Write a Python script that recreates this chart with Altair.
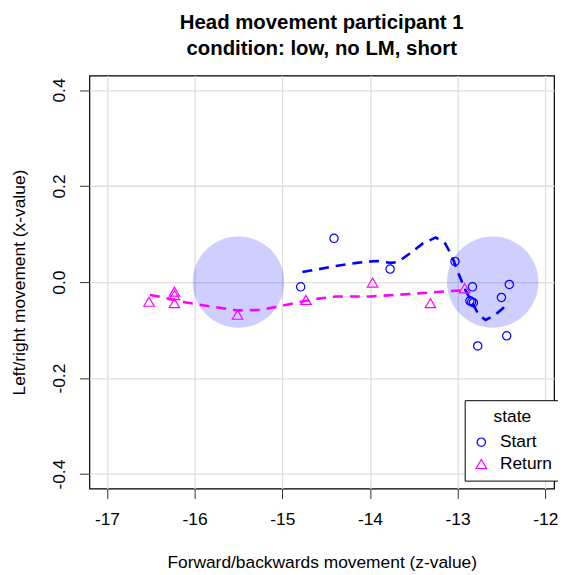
import altair as alt
import pandas as pd

# --- data ---
start_z = [-14.79, -14.41, -13.77, -13.03, -12.83, -12.41, -12.50, -12.86, -12.84, -12.82, -12.44, -12.77]
start_x = [-0.010, 0.091, 0.027, 0.043, -0.010, -0.005, -0.032, -0.039, -0.041, -0.043, -0.112, -0.133]

return_z = [-16.52, -16.23, -16.23, -16.23, -15.51, -14.73, -13.97, -13.31, -12.92]
return_x = [-0.041, -0.020, -0.027, -0.044, -0.068, -0.037, -0.001, -0.044, -0.013]

start_curve_z = [-14.77, -14.61, -14.40, -14.15, -13.93, -13.76, -13.68, -13.55, -13.40, -13.25,
                 -13.14, -13.06, -12.99, -12.91, -12.83, -12.76, -12.68, -12.57, -12.48, -12.42]
start_curve_x = [0.021, 0.026, 0.033, 0.040, 0.044, 0.040, 0.042, 0.059, 0.080, 0.093,
                 0.080, 0.052, 0.018, -0.017, -0.044, -0.068, -0.079, -0.068, -0.054, -0.041]

return_curve_z = [-16.51, -16.41, -16.11, -15.85, -15.51, -15.25, -15.02, -14.79, -14.57, -14.38,
                  -14.00, -13.55, -13.10, -12.89]
return_curve_x = [-0.027, -0.030, -0.042, -0.050, -0.059, -0.058, -0.050, -0.041, -0.034, -0.030,
                  -0.030, -0.025, -0.019, -0.017]

landmark_z = [-15.5, -12.6]
landmark_x = [0.0, 0.0]

state_order = ["Start", "Return"]

FONT = "Liberation Sans"
FS = 17.5

pts = pd.DataFrame({
    "z": start_z + return_z,
    "x": start_x + return_x,
    "state": ["Start"] * len(start_z) + ["Return"] * len(return_z),
})
sc = pd.DataFrame({"z": start_curve_z, "x": start_curve_x, "i": range(len(start_curve_z))})
rc = pd.DataFrame({"z": return_curve_z, "x": return_curve_x, "i": range(len(return_curve_z))})
lm = pd.DataFrame({"z": landmark_z, "x": landmark_x})

xscale = alt.Scale(domain=[-17.2, -11.9], nice=False, zero=False)
yscale = alt.Scale(domain=[-0.43, 0.43], nice=False, zero=False)

xaxis = alt.Axis(values=[-17, -16, -15, -14, -13, -12], title="Forward/backwards movement (z-value)",
                 labelExpr="replace(format(datum.value, 'd'), '\u2212', '-')",
                 labelPadding=12, titlePadding=26)
yaxis = alt.Axis(values=[-0.4, -0.2, 0.0, 0.2, 0.4], title="Left/right movement (x-value)",
                 labelExpr="replace(format(datum.value, '.1f'), '\u2212', '-')",
                 labelAngle=-90, labelAlign="center", labelBaseline="bottom",
                 labelPadding=11, titlePadding=22)

X = alt.X("z:Q", scale=xscale, axis=xaxis)
Y = alt.Y("x:Q", scale=yscale, axis=yaxis)

circles = alt.Chart(lm).mark_circle(size=8464, color="#0000ff", opacity=0.19,
                                    stroke="#0000ff", strokeOpacity=0.1, strokeWidth=1).encode(x=X, y=Y)

start_line = alt.Chart(sc).mark_line(color="#0000ff", strokeWidth=2.6, strokeDash=[10, 7]).encode(
    x=X, y=Y, order="i:Q")
return_line = alt.Chart(rc).mark_line(color="#ff00ff", strokeWidth=2.6, strokeDash=[10, 7]).encode(
    x=X, y=Y, order="i:Q")

legend = alt.Legend(orient="none", legendX=378, legendY=327, title="state",
                    strokeColor="black", fillColor="white", padding=8,
                    titleFontSize=FS, titleFontWeight="normal", titleFont=FONT,
                    titleColor="black", titleAnchor="middle", titlePadding=8,
                    labelFontSize=FS, labelFont=FONT, labelColor="black",
                    symbolStrokeWidth=1.2, labelOffset=10, rowPadding=3)

points = alt.Chart(pts).mark_point(filled=False, strokeWidth=1.2, opacity=1).encode(
    x=X, y=Y,
    color=alt.Color("state:N", scale=alt.Scale(domain=state_order, range=["#0000ff", "#ff00ff"]),
                    legend=legend),
    shape=alt.Shape("state:N", scale=alt.Scale(domain=state_order, range=["circle", "triangle-up"]),
                    legend=legend),
    size=alt.Size("state:N", scale=alt.Scale(domain=state_order, range=[70, 110]), legend=legend),
)

chart = alt.layer(circles, start_line, return_line, points).properties(
    width=468, height=416,
    autosize=alt.AutoSizeParams(type="none"),
    padding={"left": 82, "top": 66, "right": 4, "bottom": 85},
    title=alt.TitleParams(text=["Head movement participant 1", "\u00a0condition: low, no LM, short"],
                          fontSize=20.5, fontWeight="bold", font=FONT, color="black",
                          anchor="middle", offset=16, lineHeight=26),
).configure_view(stroke="black", strokeWidth=1.2).configure_axis(
    domain=False, grid=True, gridColor="#dedede", gridWidth=1.3,
    tickColor="#333333", tickSize=10, tickWidth=1,
    labelFont=FONT, labelFontSize=FS, labelColor="black",
    titleFont=FONT, titleFontSize=FS, titleFontWeight="normal", titleColor="black",
)

chart.save("out.html", embed_options={"renderer": "svg", "actions": False})
